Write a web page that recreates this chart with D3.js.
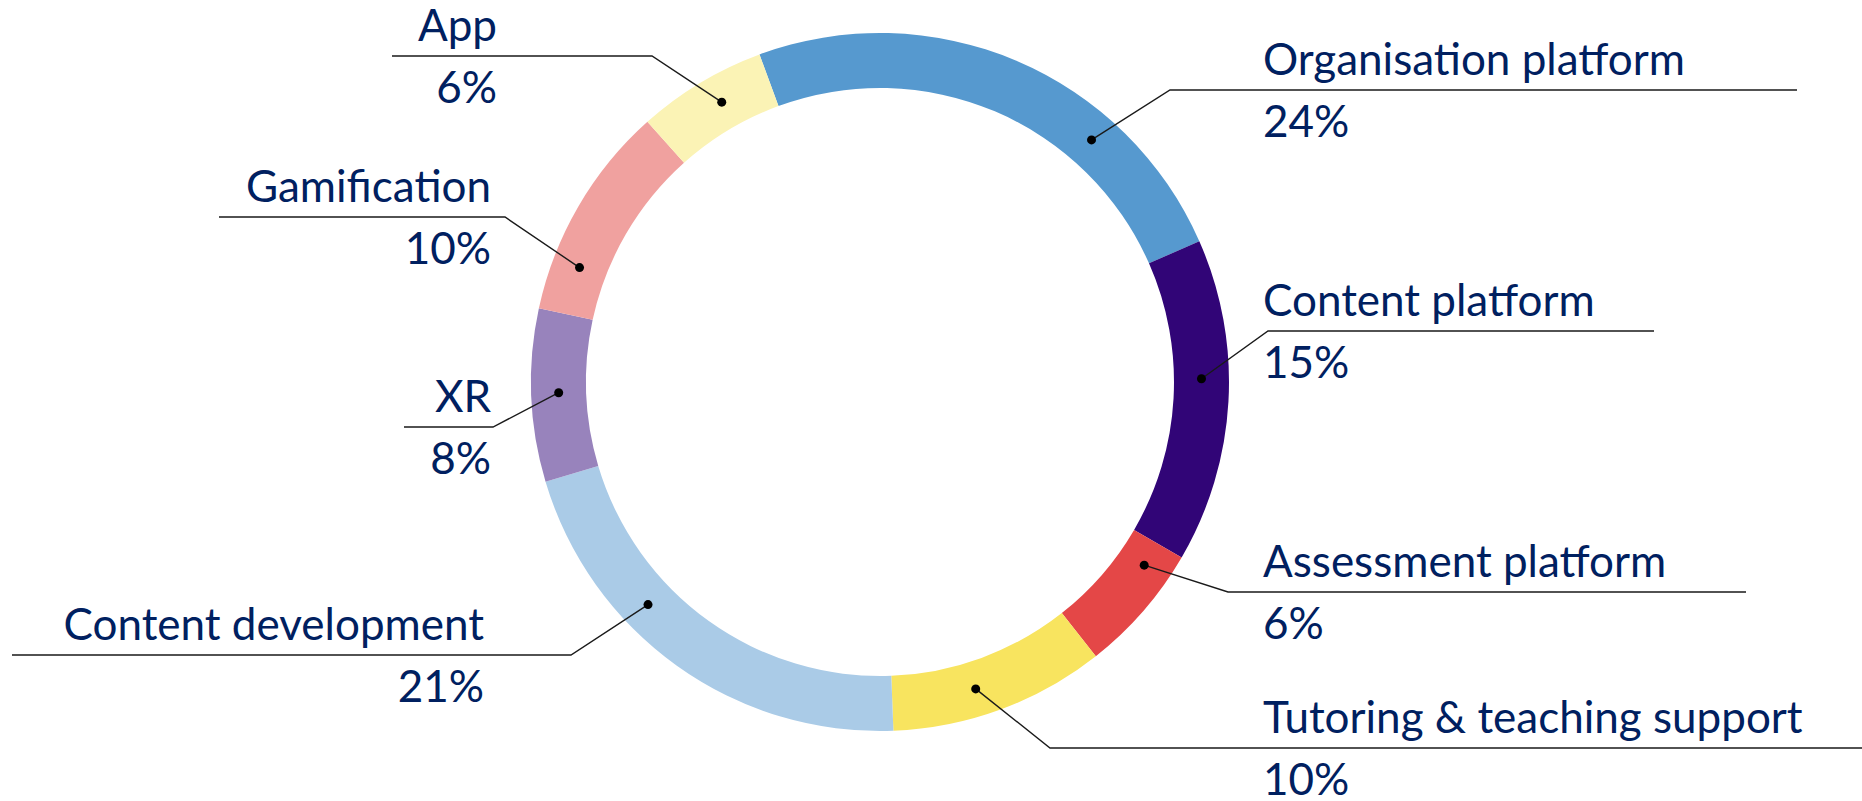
<!DOCTYPE html>
<html>
<head>
<meta charset="utf-8">
<script src="https://cdn.jsdelivr.net/npm/d3@7"></script>
<style>
  html, body { margin: 0; padding: 0; background: #fff; }
  svg text { font-family: Lato, "Open Sans", sans-serif; fill: #002060; }
</style>
</head>
<body>
<div id="chart"></div>
<script>
// datos del donut (porcentajes)
const categories = ['Organisation platform', 'Content platform', 'Assessment platform',
  'Tutoring & teaching support', 'Content development', 'XR', 'Gamification', 'App'];
const shares = [24, 15, 6, 10, 21, 8, 10, 6];
const sliceColors = ['#5699cf', '#310577', '#e44747', '#f8e45f', '#aacbe7', '#9883bc', '#f0a19f', '#fbf3b5'];

// colocación manual de etiquetas (como en Excel)
const labelSide = ['right', 'right', 'right', 'right', 'left', 'left', 'left', 'left'];
const labelTextX = [1263, 1263, 1263, 1263, 484, 491, 491, 497];
const labelLineY = [90, 331, 592, 748, 655, 427, 217, 56];
const elbowX = [1170, 1268, 1228, 1050, 571, 493, 505, 652];
const lineEndX = [1797, 1654, 1746, 1862, 12, 404, 219, 392];
const anchorFrac = [0.71, 0.43, 0.21, 0.58, 0.64, 0.51, 0.24, 0.57];

const width = 1862;
const height = 801;
const cx = 880;
const cy = 382;
const outerR = 349;
const innerR = 294;
const startDeg = -20.2;
const fontSize = 44;

const svg = d3.select('#chart')
  .append('svg')
  .attr('width', width)
  .attr('height', height);

const pie = d3.pie()
  .sort(null)
  .value(d => d)
  .startAngle(startDeg * Math.PI / 180)
  .endAngle((startDeg + 360) * Math.PI / 180);

const arc = d3.arc()
  .innerRadius(innerR)
  .outerRadius(outerR);

const arcs = pie(shares);

const groupDonut = svg.append('g')
  .attr('class', 'donut')
  .attr('transform', `translate(${cx}, ${cy})`);

groupDonut.selectAll('path')
  .data(arcs)
  .enter()
  .append('path')
  .attr('d', arc)
  .attr('fill', (d, i) => sliceColors[i]);

// líneas guía + puntos
const groupLabels = svg.append('g').attr('class', 'labels');
const midR = (innerR + outerR) / 2;

arcs.forEach((a, i) => {
  const ang = a.startAngle + (a.endAngle - a.startAngle) * anchorFrac[i];
  const dotX = cx + midR * Math.sin(ang);
  const dotY = cy - midR * Math.cos(ang);
  const y = labelLineY[i];

  groupLabels.append('polyline')
    .attr('points', `${dotX},${dotY} ${elbowX[i]},${y} ${lineEndX[i]},${y}`)
    .attr('fill', 'none')
    .attr('stroke', '#1a1a1a')
    .attr('stroke-width', 1.4);

  groupLabels.append('circle')
    .attr('cx', dotX)
    .attr('cy', dotY)
    .attr('r', 4.5)
    .attr('fill', '#000');

  const anchor = labelSide[i] === 'right' ? 'start' : 'end';

  groupLabels.append('text')
    .attr('x', labelTextX[i])
    .attr('y', y - 15)
    .attr('text-anchor', anchor)
    .attr('font-size', fontSize)
    .text(categories[i]);

  groupLabels.append('text')
    .attr('x', labelTextX[i])
    .attr('y', y + 47)
    .attr('text-anchor', anchor)
    .attr('font-size', fontSize)
    .text(`${shares[i]}%`);
});
</script>
</body>
</html>
